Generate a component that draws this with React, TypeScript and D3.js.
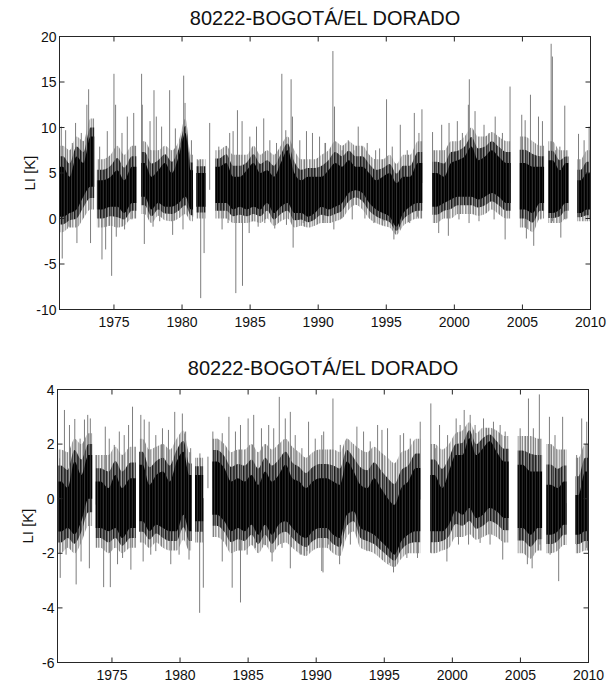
import React from 'react';
import * as d3 from 'd3';

const TITLE = '80222-BOGOTÁ/EL DORADO';
const Y_LABEL = 'LI [K]';
const X_TICKS = [1975, 1980, 1985, 1990, 1995, 2000, 2005, 2010];
const TOP_Y_TICKS = [-10, -5, 0, 5, 10, 15, 20];
const BOTTOM_Y_TICKS = [-6, -4, -2, 0, 2, 4];

// [start, end, coreLo, coreHi, envLo, envHi]  (years, K)
const topBins: number[][] = [
  [1971.0, 1971.5, 0.2, 5.7, -1.5, 8.0],
  [1971.5, 1972.0, 0.6, 4.6, -1.0, 7.5],
  [1972.0, 1972.5, 1.0, 6.8, -1.0, 9.0],
  [1972.5, 1973.0, 2.4, 6.1, 0.0, 8.5],
  [1973.0, 1973.55, 3.5, 9.0, 1.0, 11.0],
  [1973.75, 1974.5, 1.0, 4.2, -1.0, 6.5],
  [1974.5, 1975.0, 1.3, 4.6, -0.8, 7.0],
  [1975.0, 1975.5, 1.3, 5.3, -1.0, 8.0],
  [1975.5, 1976.0, 0.6, 4.2, -0.8, 7.0],
  [1976.0, 1976.65, 1.7, 5.7, 0.0, 8.0],
  [1977.0, 1977.5, 2.4, 6.1, 0.5, 8.5],
  [1977.5, 1978.0, 1.0, 4.6, -0.5, 7.5],
  [1978.0, 1978.5, 1.7, 5.3, 0.3, 7.5],
  [1978.5, 1979.0, 1.3, 6.1, -0.2, 8.0],
  [1979.0, 1979.5, 1.3, 5.0, -0.3, 7.5],
  [1979.5, 1980.0, 1.7, 6.8, 0.0, 8.5],
  [1980.0, 1980.5, 2.4, 9.4, 0.5, 11.0],
  [1980.5, 1980.8, 1.0, 5.3, -0.3, 7.0],
  [1981.05, 1981.72, 1.3, 5.0, 0.0, 6.5],
  [1982.45, 1983.0, 1.7, 5.7, 0.0, 7.5],
  [1983.0, 1983.5, 1.7, 6.1, 0.0, 8.0],
  [1983.5, 1984.0, 1.0, 4.6, -0.5, 7.0],
  [1984.0, 1984.5, 1.3, 4.6, -0.5, 7.0],
  [1984.5, 1985.0, 1.0, 5.3, -0.5, 7.0],
  [1985.0, 1985.5, 1.3, 6.1, -0.3, 8.0],
  [1985.5, 1986.0, 1.0, 5.0, -0.5, 7.0],
  [1986.0, 1986.5, 1.7, 5.3, 0.0, 7.5],
  [1986.5, 1987.0, 0.6, 4.6, -0.8, 7.0],
  [1987.0, 1987.5, 1.3, 6.1, -0.3, 8.0],
  [1987.5, 1988.0, 1.7, 7.5, 0.0, 9.0],
  [1988.0, 1988.5, 0.6, 5.0, -1.0, 7.5],
  [1988.5, 1989.0, 0.6, 4.2, -0.8, 6.5],
  [1989.0, 1989.5, 0.2, 4.6, -1.0, 6.5],
  [1989.5, 1990.0, 0.6, 4.6, -0.8, 6.5],
  [1990.0, 1990.5, 1.3, 4.6, -0.5, 7.0],
  [1990.5, 1991.0, 1.0, 5.3, -0.5, 7.5],
  [1991.0, 1991.5, 1.3, 6.1, -0.3, 8.5],
  [1991.5, 1992.0, 1.7, 5.7, 0.0, 8.0],
  [1992.0, 1992.5, 2.8, 6.4, 1.0, 8.5],
  [1992.5, 1993.0, 3.1, 5.7, 1.5, 8.0],
  [1993.0, 1993.5, 2.8, 5.7, 1.0, 8.0],
  [1993.5, 1994.0, 1.7, 5.0, 0.0, 7.0],
  [1994.0, 1994.5, 1.0, 4.2, -0.5, 6.5],
  [1994.5, 1995.0, 0.6, 4.6, -0.8, 6.5],
  [1995.0, 1995.5, 0.2, 5.0, -1.0, 7.0],
  [1995.5, 1996.0, -0.9, 3.9, -1.8, 6.0],
  [1996.0, 1996.5, 0.6, 4.6, -0.8, 7.0],
  [1996.5, 1997.0, 1.3, 4.6, -0.3, 7.0],
  [1997.0, 1997.65, 1.7, 6.1, 0.0, 8.5],
  [1998.38, 1999.0, 1.3, 5.0, -0.5, 7.5],
  [1999.0, 1999.5, 1.7, 4.6, 0.0, 7.5],
  [1999.5, 2000.0, 2.1, 6.1, 0.0, 8.5],
  [2000.0, 2000.5, 2.4, 6.4, 0.5, 8.5],
  [2000.5, 2001.0, 2.4, 6.8, 0.5, 9.0],
  [2001.0, 2001.5, 2.4, 7.9, 0.5, 10.0],
  [2001.5, 2002.0, 2.1, 6.4, 0.3, 9.0],
  [2002.0, 2002.5, 2.4, 6.8, 0.5, 9.0],
  [2002.5, 2003.0, 2.8, 7.5, 1.0, 9.5],
  [2003.0, 2003.5, 2.4, 6.8, 0.5, 9.0],
  [2003.5, 2004.14, 1.7, 6.1, 0.0, 8.5],
  [2004.8, 2005.5, 1.0, 6.1, -1.0, 9.0],
  [2005.5, 2006.0, 0.6, 5.7, -1.5, 8.5],
  [2006.0, 2006.59, 1.7, 5.7, 0.0, 8.0],
  [2006.91, 2007.5, 0.6, 6.4, -0.5, 8.5],
  [2007.5, 2008.0, 1.0, 5.3, -0.5, 7.5],
  [2008.0, 2008.38, 1.7, 6.1, 0.0, 7.5],
  [2009.04, 2009.5, 0.6, 4.2, -0.3, 6.5],
  [2009.5, 2010.0, 1.0, 5.0, -0.3, 7.5],
];

// [year, value] isolated extreme days
const topSpikes: number[][] = [
  [1971.13, 10.1], [1971.45, 9.7], [1971.94, 8.3], [1972.18, 10.5], [1972.6, 9.4],
  [1973.01, 12.5], [1973.14, 14.2], [1973.46, 8.6], [1973.95, 7.9], [1974.51, 9.6],
  [1975.0, 15.9], [1975.12, 12.5], [1975.59, 9.4], [1975.98, 11.2], [1976.45, 11.6],
  [1977.03, 15.9], [1977.08, 12.5], [1977.65, 10.7], [1977.94, 14.1], [1978.11, 11.2],
  [1978.5, 10.1], [1979.09, 14.1], [1979.51, 9.9], [1980.12, 15.7], [1980.22, 12.7],
  [1980.69, 8.6], [1981.18, 6.4], [1982.03, 10.5], [1982.7, 7.9], [1983.5, 9.4],
  [1983.75, 9.6], [1984.07, 11.9], [1984.41, 10.7], [1984.98, 9.0], [1985.47, 10.1],
  [1986.0, 11.0], [1986.45, 8.6], [1986.94, 8.3], [1987.33, 15.9], [1987.62, 9.7],
  [1988.01, 15.3], [1988.11, 11.2], [1988.65, 8.6], [1989.14, 9.6], [1989.58, 9.4],
  [1990.1, 9.0], [1990.5, 8.3],
  [1971.2, -4.4], [1971.69, -0.9], [1972.28, -2.7], [1973.28, -2.7], [1974.12, -4.5],
  [1974.39, -3.4], [1974.83, -6.3], [1975.17, -2.0], [1975.78, -1.2], [1976.32, -0.1],
  [1977.23, -2.8], [1977.87, -0.9], [1978.36, -0.3], [1979.31, -1.8], [1980.07, -1.2],
  [1980.78, 0.2], [1981.37, -8.75], [1981.62, -3.8], [1982.94, -1.2], [1983.38, -0.5],
  [1983.95, -8.2], [1984.44, -7.4], [1984.93, -1.6], [1985.59, -0.9], [1986.08, -0.5],
  [1986.81, -1.1], [1987.67, -0.7], [1988.16, -3.2], [1988.9, -0.5], [1989.39, 0.0],
  [1990.37, -0.2],
  [1990.54, 8.3], [1991.08, 18.4], [1991.2, 12.3], [1991.76, 7.5], [1992.21, 8.6],
  [1992.62, 7.5], [1992.94, 10.1], [1993.24, 7.9], [1993.6, 8.3], [1994.22, 7.5],
  [1994.51, 7.7], [1995.02, 13.1], [1995.44, 7.9], [1996.03, 10.3], [1996.54, 7.5],
  [1997.06, 11.6], [1997.4, 9.4], [1997.62, 12.0], [1998.4, 9.5], [1999.07, 10.3],
  [1999.61, 10.5], [2000.22, 10.7], [2000.59, 9.4], [2001.03, 12.5], [2001.1, 15.3],
  [2001.52, 11.8], [2002.18, 10.3], [2002.55, 9.4], [2003.0, 11.2], [2003.53, 9.4],
  [2004.09, 14.5], [2004.95, 11.4], [2005.2, 10.8], [2005.59, 13.6], [2006.18, 11.2],
  [2006.47, 10.7], [2007.11, 19.2], [2007.2, 17.8], [2007.45, 7.5], [2007.75, 7.9],
  [2008.11, 12.4], [2008.31, 6.4], [2009.12, 9.3], [2009.53, 8.6], [2009.9, 10.1],
  [1990.42, -0.5], [1991.15, -1.2], [1991.72, 0.0], [1992.5, -0.1], [1993.43, 0.0],
  [1994.09, -0.5], [1994.83, -0.3], [1995.56, -2.3], [1995.93, -1.2], [1996.72, -0.5],
  [1997.28, 0.2], [1998.85, -1.6], [1999.56, -1.9], [2000.34, -0.1], [2001.08, -0.5],
  [2001.81, -0.3], [2002.92, -0.1], [2003.73, -2.3], [2005.29, -2.2], [2005.83, -3.0],
  [2006.35, -0.1], [2007.2, -0.3], [2007.82, -2.1], [2008.19, -0.1], [2009.29, 0.2],
  [2009.9, 0.0],
];

const bottomBins: number[][] = [
  [1971.0, 1971.5, -1.2, 0.63, -2.0, 1.8],
  [1971.5, 1972.0, -1.07, 0.4, -1.8, 1.7],
  [1972.0, 1972.5, -1.3, 1.36, -2.0, 2.2],
  [1972.5, 1973.0, -0.83, 0.87, -1.6, 2.0],
  [1973.0, 1973.55, 0.0, 1.6, -1.0, 2.4],
  [1973.8, 1974.5, -1.07, 0.63, -1.8, 1.6],
  [1974.5, 1975.0, -1.19, 0.39, -2.0, 1.6],
  [1975.0, 1975.5, -1.07, 0.87, -1.8, 1.9],
  [1975.5, 1976.0, -1.44, 0.39, -2.0, 1.6],
  [1976.0, 1976.75, -1.07, 0.75, -1.8, 1.9],
  [1977.0, 1977.5, -0.83, 1.24, -1.6, 2.2],
  [1977.5, 1978.0, -1.19, 0.51, -1.8, 1.8],
  [1978.0, 1978.5, -0.95, 0.87, -1.6, 1.9],
  [1978.5, 1979.0, -1.07, 1.0, -1.8, 2.0],
  [1979.0, 1979.5, -1.19, 0.63, -1.9, 1.8],
  [1979.5, 1980.0, -1.19, 1.36, -1.9, 2.2],
  [1980.0, 1980.5, -0.59, 1.72, -1.5, 2.5],
  [1980.5, 1980.85, -1.19, 0.87, -1.9, 1.7],
  [1981.1, 1981.7, -0.83, 0.87, -1.6, 1.5],
  [1982.37, 1983.0, -0.59, 1.36, -1.4, 2.2],
  [1983.0, 1983.5, -0.83, 1.12, -1.6, 2.0],
  [1983.5, 1984.0, -1.19, 0.63, -2.0, 1.7],
  [1984.0, 1984.5, -1.07, 0.75, -1.9, 1.8],
  [1984.5, 1985.0, -1.19, 0.63, -1.9, 1.8],
  [1985.0, 1985.5, -0.95, 0.87, -1.7, 2.0],
  [1985.5, 1986.0, -1.32, 0.51, -2.0, 1.7],
  [1986.0, 1986.5, -0.95, 1.0, -1.7, 2.0],
  [1986.5, 1987.0, -1.32, 0.63, -2.0, 1.8],
  [1987.0, 1987.5, -0.95, 0.87, -1.7, 2.0],
  [1987.5, 1988.0, -0.83, 1.24, -1.6, 2.2],
  [1988.0, 1988.5, -1.07, 0.75, -1.8, 1.9],
  [1988.5, 1989.0, -1.32, 0.63, -2.0, 1.7],
  [1989.0, 1989.5, -1.44, 0.39, -2.1, 1.5],
  [1989.5, 1990.0, -1.19, 0.63, -1.9, 1.7],
  [1990.0, 1990.5, -1.07, 0.75, -1.8, 1.8],
  [1990.5, 1991.0, -1.07, 0.75, -1.8, 1.8],
  [1991.0, 1991.5, -1.32, 0.63, -2.0, 1.8],
  [1991.5, 1992.0, -1.44, 0.51, -2.1, 1.7],
  [1992.0, 1992.5, -0.59, 1.36, -1.4, 2.2],
  [1992.5, 1993.0, -0.46, 1.0, -1.2, 2.0],
  [1993.0, 1993.5, -1.07, 0.51, -1.8, 1.8],
  [1993.5, 1994.0, -1.19, 0.39, -1.9, 1.7],
  [1994.0, 1994.5, -1.32, 0.75, -2.0, 1.9],
  [1994.5, 1995.0, -1.56, 0.39, -2.2, 1.7],
  [1995.0, 1995.5, -1.8, 0.02, -2.4, 1.5],
  [1995.5, 1996.0, -2.05, -0.22, -2.5, 1.3],
  [1996.0, 1996.5, -1.56, 0.39, -2.2, 1.7],
  [1996.5, 1997.0, -1.32, 0.63, -2.0, 1.8],
  [1997.0, 1997.65, -1.19, 1.12, -2.0, 2.2],
  [1998.38, 1999.0, -1.19, 0.87, -2.0, 2.0],
  [1999.0, 1999.5, -1.19, 0.39, -1.9, 1.8],
  [1999.5, 2000.0, -0.95, 1.0, -1.8, 2.0],
  [2000.0, 2000.5, -0.46, 1.6, -1.4, 2.4],
  [2000.5, 2001.0, -0.59, 1.6, -1.4, 2.5],
  [2001.0, 2001.5, -0.34, 2.21, -1.3, 2.8],
  [2001.5, 2002.0, -0.71, 1.6, -1.5, 2.4],
  [2002.0, 2002.5, -0.59, 1.85, -1.4, 2.6],
  [2002.5, 2003.0, -0.34, 2.1, -1.3, 2.6],
  [2003.0, 2003.5, -0.46, 1.72, -1.4, 2.5],
  [2003.5, 2004.14, -0.71, 1.36, -1.6, 2.3],
  [2004.8, 2005.5, -1.07, 1.24, -2.0, 2.3],
  [2005.5, 2006.0, -1.32, 1.0, -2.2, 2.3],
  [2006.0, 2006.59, -1.07, 1.0, -1.9, 2.2],
  [2006.91, 2007.5, -1.32, 0.51, -2.0, 2.0],
  [2007.5, 2008.0, -1.19, 0.39, -1.9, 1.8],
  [2008.0, 2008.38, -0.95, 0.63, -1.7, 1.8],
  [2009.04, 2009.5, -1.32, 0.14, -2.0, 1.5],
  [2009.5, 2010.0, -1.19, 1.0, -1.9, 2.0],
];

const bottomSpikes: number[][] = [
  [1971.15, 1.48], [1971.51, 3.25], [1971.88, 2.7], [1972.27, 2.92], [1972.66, 2.2],
  [1972.98, 2.9], [1973.22, 3.07], [1973.41, 2.94], [1973.83, 1.6], [1974.51, 2.64],
  [1974.8, 2.2], [1975.17, 1.97], [1975.54, 2.46], [1975.9, 2.33], [1976.22, 2.7],
  [1976.51, 3.37], [1977.12, 3.07], [1977.37, 2.9], [1977.73, 2.82], [1978.22, 2.33],
  [1978.71, 2.58], [1979.15, 2.52], [1979.61, 3.18], [1980.17, 3.12], [1980.41, 2.46],
  [1980.78, 1.85], [1981.46, 1.66], [1982.05, 1.54], [1982.41, 2.46], [1982.73, 2.2],
  [1983.1, 2.4], [1983.59, 3.0], [1984.07, 2.46], [1984.44, 2.7], [1985.0, 2.94],
  [1985.41, 3.07], [1985.98, 2.58], [1986.51, 2.7], [1986.88, 2.58], [1987.29, 3.73],
  [1987.73, 2.94], [1988.1, 3.18], [1988.46, 2.33], [1988.95, 1.85], [1989.44, 2.82],
  [1989.93, 2.2], [1990.41, 2.33],
  [1971.2, -2.9], [1971.63, -2.05], [1972.37, -3.14], [1972.73, -2.3], [1973.34, -2.55],
  [1974.39, -3.24], [1974.88, -3.24], [1975.41, -2.4], [1975.78, -2.17], [1976.39, -2.6],
  [1977.29, -2.3], [1977.85, -2.05], [1978.22, -1.92], [1979.32, -2.4], [1979.93, -2.05],
  [1980.66, -2.23], [1981.44, -4.18], [1981.71, -3.26], [1983.1, -2.3], [1983.83, -3.26],
  [1984.44, -3.8], [1984.93, -2.05], [1985.54, -1.8], [1986.15, -1.68], [1986.76, -2.3],
  [1987.49, -1.8], [1988.1, -2.55], [1988.83, -2.05], [1989.32, -1.92], [1990.41, -2.65],
  [1990.55, 2.46], [1991.23, 3.67], [1991.77, 1.97], [1992.26, 2.2], [1992.99, 2.64],
  [1993.48, 2.46], [1993.97, 2.1], [1994.51, 2.7], [1994.83, 2.52], [1995.24, 2.58],
  [1996.17, 2.33], [1996.42, 2.4], [1996.91, 2.2], [1997.64, 2.82], [1998.42, 3.49],
  [1998.74, 1.85], [1999.06, 2.7], [1999.65, 2.33], [2000.28, 2.94], [2000.57, 2.7],
  [2000.87, 3.25], [2001.31, 3.07], [2001.67, 2.7], [2002.29, 2.94], [2002.65, 2.58],
  [2003.02, 2.82], [2003.51, 2.7], [2003.88, 2.46], [2004.98, 2.58], [2005.59, 3.67],
  [2005.95, 2.58], [2006.39, 3.82], [2007.13, 3.0], [2007.54, 2.33], [2008.1, 3.0],
  [2009.13, 1.6], [2009.5, 2.94], [2009.87, 2.82],
  [1990.5, -2.7], [1990.92, -1.68], [1991.72, -2.4], [1992.51, -1.68], [1993.73, -1.92],
  [1994.41, -1.68], [1995.39, -2.35], [1995.68, -2.7], [1996.66, -2.17], [1997.44, -2.17],
  [1998.4, -1.98], [1999.6, -2.3], [2000.45, -1.68], [2001.19, -1.68], [2002.04, -1.62],
  [2002.77, -1.68], [2003.7, -2.23], [2005.51, -2.4], [2005.86, -2.55], [2006.44, -1.68],
  [2007.18, -2.05], [2007.81, -3.02], [2008.35, -1.3], [2009.13, -1.68], [2009.87, -1.8],
];

const FONT = "Arial, 'Liberation Sans', Helvetica, sans-serif";

// column tones for the streaked fills (styling only)
const OUTER_TONES = ['#a8a8a8', '#d6d6d6', '#8e8e8e', '#ececec', '#b8b8b8', '#7f7f7f', '#e2e2e2', '#9c9c9c', '#c8c8c8', '#f4f4f4', '#939393', '#bdbdbd', '#dcdcdc'];
const MID_TONES = ['#3c3c3c', '#7a7a7a', '#222222', '#5a5a5a', '#9a9a9a', '#2e2e2e', '#666666', '#444444', '#888888', '#1c1c1c', '#555555', '#707070', '#333333'];
const CORE_TONES = ['#000000', '#0a0a0a', '#262626', '#000000', '#111111', '#000000', '#333333', '#050505', '#000000', '#1a1a1a', '#000000', '#0d0d0d', '#2a2a2a'];

type Frame = { x0: number; x1: number; y0: number; y1: number };

function segmentsOf(bins: number[][]) {
  const segs: number[][][] = [];
  let cur: number[][] = [];
  bins.forEach((b, i) => {
    if (i > 0 && Math.abs(bins[i - 1][1] - b[0]) > 1e-6) {
      segs.push(cur);
      cur = [];
    }
    cur.push(b);
  });
  if (cur.length) segs.push(cur);
  return segs;
}

function StripePattern({ id, tones }: { id: string; tones: string[] }) {
  return (
    <pattern id={id} x={0} y={0} width={tones.length} height={10} patternUnits="userSpaceOnUse">
      {tones.map((c, i) => (
        <rect key={i} x={i} y={0} width={1} height={10} fill={c} />
      ))}
    </pattern>
  );
}

function Panel({ id, bins, spikes, yDomain, yTicks, frame, titleY, labelX }: {
  id: string; bins: number[][]; spikes: number[][]; yDomain: number[]; yTicks: number[];
  frame: Frame; titleY: number; labelX: number;
}) {
  const x = d3.scaleLinear().domain([1971, 2010]).range([frame.x0, frame.x1]);
  const y = d3.scaleLinear().domain(yDomain).range([frame.y1, frame.y0]);
  const segs = segmentsOf(bins);
  type P = { t: number; lo: number; hi: number };
  const pick = (b: number[], layer: number) => {
    if (layer === 0) return [b[4], b[5]];
    if (layer === 1) return [(b[2] + b[4]) / 2, (b[3] + b[5]) / 2];
    return [b[2], b[3]];
  };
  const mkPts = (seg: number[][], layer: number): P[] => {
    const f = pick(seg[0], layer);
    const pts: P[] = [{ t: seg[0][0], lo: f[0], hi: f[1] }];
    seg.forEach((b) => {
      const v = pick(b, layer);
      pts.push({ t: (b[0] + b[1]) / 2, lo: v[0], hi: v[1] });
    });
    const last = seg[seg.length - 1];
    const l = pick(last, layer);
    pts.push({ t: last[1], lo: l[0], hi: l[1] });
    return pts;
  };
  const area = d3.area<P>().x((d) => x(d.t)).y0((d) => y(d.lo)).y1((d) => y(d.hi)).curve(d3.curveMonotoneX);
  const binAt = (t: number) => {
    let best = bins[0];
    let bd = Infinity;
    for (const b of bins) {
      const d = t < b[0] ? b[0] - t : t > b[1] ? t - b[1] : 0;
      if (d < bd) { bd = d; best = b; }
    }
    return best;
  };
  const tl = 5;
  const fills = [`url(#outer-${id})`, `url(#mid-${id})`, `url(#core-${id})`];
  return (
    <g>
      <defs>
        <clipPath id={`clip-${id}`}>
          <rect x={frame.x0} y={frame.y0} width={frame.x1 - frame.x0} height={frame.y1 - frame.y0} />
        </clipPath>
        <StripePattern id={`outer-${id}`} tones={OUTER_TONES} />
        <StripePattern id={`mid-${id}`} tones={MID_TONES} />
        <StripePattern id={`core-${id}`} tones={CORE_TONES} />
      </defs>
      <text x={(frame.x0 + frame.x1) / 2} y={titleY} textAnchor="middle" fontFamily={FONT} fontSize={20} fill="#111">{TITLE}</text>
      <g clipPath={`url(#clip-${id})`}>
        {segs.map((s, i) => (
          <path key={`e${i}`} d={area(mkPts(s, 0)) || ''} fill={fills[0]} />
        ))}
        {spikes.map(([t, v], i) => {
          const b = binAt(t);
          const mid = (b[2] + b[3]) / 2;
          return <line key={`s${i}`} x1={x(t)} x2={x(t)} y1={y(mid)} y2={y(v)} stroke="#7d7d7d" strokeWidth={1} />;
        })}
        {segs.map((s, i) => (
          <path key={`m${i}`} d={area(mkPts(s, 1)) || ''} fill={fills[1]} />
        ))}
        {segs.map((s, i) => (
          <path key={`c${i}`} d={area(mkPts(s, 2)) || ''} fill={fills[2]} />
        ))}
      </g>
      <rect x={frame.x0} y={frame.y0} width={frame.x1 - frame.x0} height={frame.y1 - frame.y0} fill="none" stroke="#262626" strokeWidth={1} />
      {X_TICKS.map((t) => (
        <g key={`xt${t}`}>
          <line x1={x(t)} x2={x(t)} y1={frame.y1} y2={frame.y1 - tl} stroke="#262626" />
          <line x1={x(t)} x2={x(t)} y1={frame.y0} y2={frame.y0 + tl} stroke="#262626" />
          <text x={x(t)} y={frame.y1 + 17.5} textAnchor="middle" fontFamily={FONT} fontSize={14} fill="#111">{t}</text>
        </g>
      ))}
      {yTicks.map((v) => (
        <g key={`yt${v}`}>
          <line x1={frame.x0} x2={frame.x0 + tl} y1={y(v)} y2={y(v)} stroke="#262626" />
          <line x1={frame.x1} x2={frame.x1 - tl} y1={y(v)} y2={y(v)} stroke="#262626" />
          <text x={frame.x0 - 3} y={y(v)} dy="0.36em" textAnchor="end" fontFamily={FONT} fontSize={14} fill="#111">{v}</text>
        </g>
      ))}
      <text transform={`translate(${labelX},${(frame.y0 + frame.y1) / 2}) rotate(-90)`} textAnchor="middle" fontFamily={FONT} fontSize={15} fill="#111">{Y_LABEL}</text>
    </g>
  );
}

export default function App() {
  return (
    <svg width={609} height={686} style={{ position: 'absolute', left: 0, top: 0, background: '#fff' }}>
      <rect x={0} y={0} width={609} height={686} fill="#fff" />
      <Panel id="top" bins={topBins} spikes={topSpikes} yDomain={[-10, 20]} yTicks={TOP_Y_TICKS}
        frame={{ x0: 59.5, x1: 590.5, y0: 36.5, y1: 309.5 }} titleY={25} labelX={35} />
      <Panel id="bot" bins={bottomBins} spikes={bottomSpikes} yDomain={[-6, 4]} yTicks={BOTTOM_Y_TICKS}
        frame={{ x0: 57.5, x1: 588.5, y0: 389.5, y1: 662.5 }} titleY={375} labelX={33} />
    </svg>
  );
}
